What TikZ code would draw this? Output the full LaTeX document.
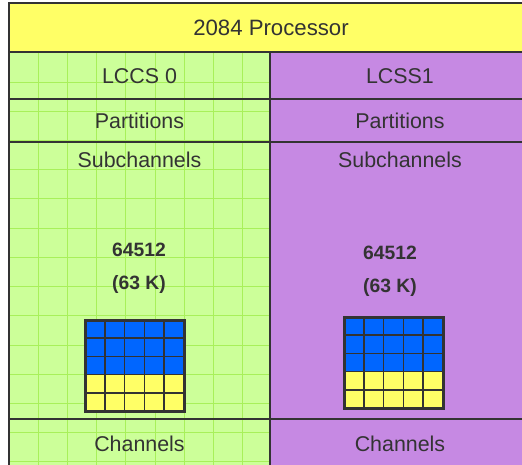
\documentclass[tikz,border=0pt]{standalone}
\usepackage{fontspec}
\setmainfont{Liberation Sans}
\definecolor{txt}{HTML}{333333}
\definecolor{ln}{HTML}{333333}
\definecolor{hdr}{HTML}{FFFF66}
\definecolor{grn}{HTML}{CCFF99}
\definecolor{gl}{HTML}{A8F05A}
\definecolor{prp}{HTML}{C689E3}
\definecolor{blu}{HTML}{0066FF}
\definecolor{ylw}{HTML}{FFFF66}
\begin{document}
\begin{tikzpicture}[x=1pt,y=-1pt,
  lbl/.style={font=\fontsize{21.4}{25}\selectfont, text=txt, inner sep=0pt},
  num/.style={font=\fontsize{19.3}{22}\selectfont\bfseries, text=txt, inner sep=0pt},
  rule/.style={draw=ln, line width=1.5pt},
  frame/.style={draw=ln, line width=2.5pt},
  gline/.style={draw=gl, line width=1pt},
  cellblock/.pic={
    \fill[blu] (0,0) rectangle (99,54.6);
    \fill[ylw] (0,54.6) rectangle (99,91);
    \foreach \i in {1,...,4} {
      \draw[ln, line width=1.5pt] (19.8*\i,0) -- (19.8*\i,91);
      \draw[ln, line width=1.5pt] (0,18.2*\i) -- (99,18.2*\i);
    }
    \draw[ln, line width=3pt] (0,0) rectangle (99,91);
  }]
\useasboundingbox (0,0) rectangle (522,465);
\clip (0,0) rectangle (522,465);
\fill[hdr] (9,3) rectangle (533,52);
\fill[grn] (9,52) rectangle (270,470);
\fill[prp] (270,52) rectangle (533,470);
\begin{scope}
  \clip (9,52) rectangle (270,470);
  \foreach \k in {1,...,9} \draw[gline] (9+29.2*\k,52) -- (9+29.2*\k,470);
  \foreach \k in {0,...,14} \draw[gline] (9,53+29.2*\k) -- (270,53+29.2*\k);
\end{scope}
\draw[rule] (9,52) -- (533,52);
\draw[rule] (9,99) -- (533,99);
\draw[rule] (9,142) -- (533,142);
\draw[rule] (9,419) -- (533,419);
\draw[rule] (270,52) -- (270,470);
\draw[frame] (9,470) -- (9,3) -- (533,3) -- (533,470);

\node[lbl, font=\fontsize{22.2}{26}\selectfont] (title) at (271,28) {2084 Processor};
\node[lbl] (lccs0) at (139.5,76) {LCCS 0};
\node[lbl] (lcss1) at (400,76) {LCSS1};
\node[lbl] (part0) at (139.5,121) {Partitions};
\node[lbl] (part1) at (400,121) {Partitions};
\node[lbl] (sub0) at (139.5,160) {Subchannels};
\node[lbl] (sub1) at (400,160) {Subchannels};
\node[num] (n0) at (139,250) {64512};
\node[num] (k0) at (139,285) {(63 K)};
\node[num] (n1) at (390,253) {64512};
\node[num] (k1) at (390,288) {(63 K)};
\pic at (85,320) {cellblock};
\pic at (344,317) {cellblock};
\node[lbl] (ch0) at (139.5,444) {Channels};
\node[lbl] (ch1) at (400,444) {Channels};
\end{tikzpicture}
\end{document}
